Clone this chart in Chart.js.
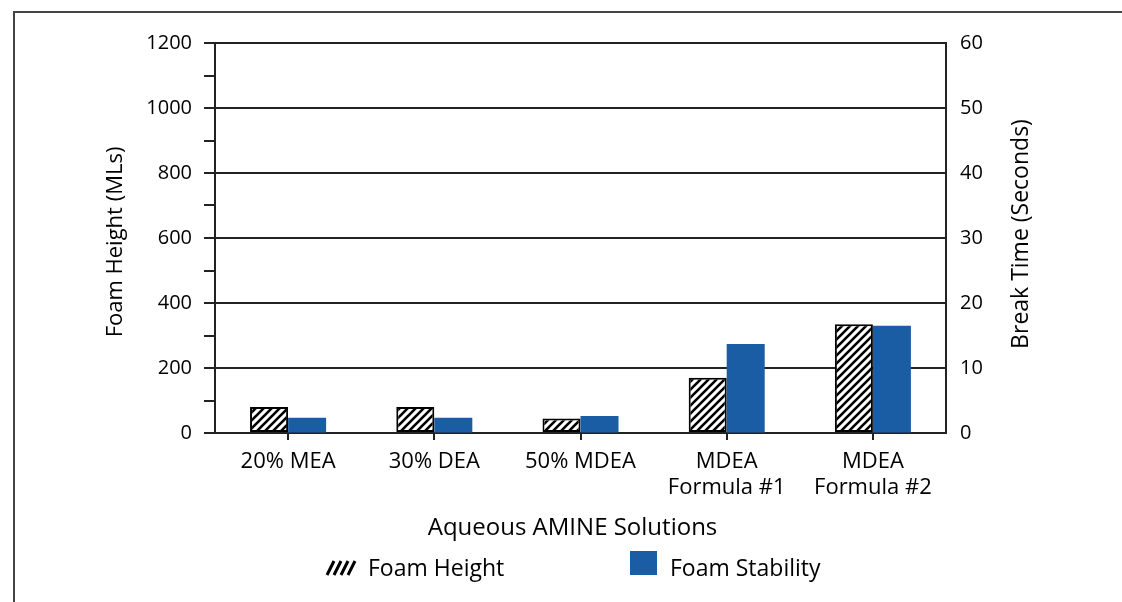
<!DOCTYPE html>
<html>
<head>
<meta charset="utf-8">
<script src="https://cdn.jsdelivr.net/npm/chart.js@4.4.0/dist/chart.umd.min.js"></script>
<style>
    html, body { margin: 0; padding: 0; background: #fff; }
    #wrap { position: relative; width: 1122px; height: 602px; overflow: hidden; }
    #frame { position: absolute; left: 13px; top: 11px; right: -4px; bottom: -4px;
             border-left: 2px solid #444; border-top: 2px solid #444; }
    canvas { position: absolute; left: 0; top: 0; }
</style>
</head>
<body>
<div id="wrap">
    <div id="frame"></div>
    <canvas id="chart" width="1122" height="602"></canvas>
</div>
<script>
// Chart data
const categories = [
    ['20% MEA'],
    ['30% DEA'],
    ['50% MDEA'],
    ['MDEA', 'Formula #1'],
    ['MDEA', 'Formula #2']
];
const foamHeight = [80, 80, 45, 170, 335];          // MLs, left axis
const foamStability = [2.35, 2.35, 2.6, 13.7, 16.5]; // seconds, right axis

const seriesNames = ['Foam Height', 'Foam Stability'];
const xTitle = 'Aqueous AMINE Solutions';
const yTitle = 'Foam Height (MLs)';
const y1Title = 'Break Time (Seconds)';

// Styling
const FONT = '"Open Sans", "DejaVu Sans", sans-serif';
const TEXT = '#000';
const LINE = '#222';
const BLUE = '#1b5da5';

const canvas = document.getElementById('chart');
const ctx = canvas.getContext('2d');

function makeHatch(target) {
    const tile = document.createElement('canvas');
    tile.width = 8;
    tile.height = 8;
    const g = tile.getContext('2d');
    g.fillStyle = '#fff';
    g.fillRect(0, 0, 8, 8);
    g.strokeStyle = '#000';
    g.lineWidth = 2.6;
    g.beginPath();
    g.moveTo(-2, 10); g.lineTo(10, -2);
    g.moveTo(-2, 2); g.lineTo(2, -2);
    g.moveTo(6, 10); g.lineTo(10, 6);
    g.stroke();
    return target.createPattern(tile, 'repeat');
}

// Titles and legend drawn on top of the chart
const extras = {
    id: 'extras',
    afterDraw(chart) {
        const c = chart.ctx;
        const a = chart.chartArea;
        const midY = (a.top + a.bottom) / 2;
        const midX = (a.left + a.right) / 2;
        c.save();
        c.fillStyle = TEXT;
        c.textBaseline = 'middle';
        c.textAlign = 'center';

        // axis titles
        c.font = '22px ' + FONT;
        c.save();
        c.translate(116, midY + 4);
        c.rotate(-Math.PI / 2);
        c.fillText(yTitle, 0, 0);
        c.restore();

        c.font = '23px ' + FONT;
        c.save();
        c.translate(1021, midY - 4);
        c.rotate(-Math.PI / 2);
        c.fillText(y1Title, 0, 0);
        c.restore();

        c.textBaseline = 'alphabetic';
        c.font = '24px ' + FONT;
        c.fillText(xTitle, midX - 8, 535);

        // legend
        c.font = '23px ' + FONT;
        c.textAlign = 'left';
        c.strokeStyle = '#000';
        c.lineWidth = 3;
        c.beginPath();
        for (let i = 0; i < 4; i++) {
            const x0 = 327 + i * 7;
            c.moveTo(x0, 575);
            c.lineTo(x0 + 7, 561);
        }
        c.stroke();
        c.fillText(seriesNames[0], 368, 576);

        c.fillStyle = BLUE;
        c.fillRect(630, 551, 27, 24);
        c.fillStyle = TEXT;
        c.fillText(seriesNames[1], 670, 576);
        c.restore();
    }
};

new Chart(ctx, {
    type: 'bar',
    data: {
        labels: categories,
        datasets: [
            {
                label: seriesNames[0],
                data: foamHeight,
                yAxisID: 'y',
                backgroundColor: makeHatch(ctx),
                borderColor: '#000',
                borderWidth: 2,
                borderSkipped: false
            },
            {
                label: seriesNames[1],
                data: foamStability,
                yAxisID: 'y1',
                backgroundColor: BLUE,
                borderWidth: 0
            }
        ]
    },
    options: {
        responsive: false,
        animation: false,
        categoryPercentage: 0.52,
        barPercentage: 1.0,
        layout: {
            padding: { top: 43, left: 0, right: 0, bottom: 0 }
        },
        plugins: {
            legend: { display: false },
            tooltip: { enabled: false }
        },
        scales: {
            x: {
                grid: {
                    drawOnChartArea: false,
                    offset: false,
                    tickLength: 7,
                    color: LINE,
                    lineWidth: 2
                },
                border: { color: LINE, width: 2 },
                ticks: {
                    color: TEXT,
                    font: { family: FONT, size: 22, lineHeight: 1.18 },
                    padding: 9,
                    maxRotation: 0,
                    autoSkip: false
                },
                afterFit: function(scale) {
                    scale.height = 602 - 433;
                }
            },
            y: {
                position: 'left',
                min: 0,
                max: 1200,
                ticks: {
                    stepSize: 100,
                    autoSkip: false,
                    padding: 12,
                    color: TEXT,
                    font: { family: FONT, size: 20 },
                    callback: function(value) {
                        return value % 200 === 0 ? value : '';
                    }
                },
                grid: {
                    color: function(context) {
                        return context.tick && context.tick.value % 200 === 0 ? LINE : 'rgba(0,0,0,0)';
                    },
                    tickColor: LINE,
                    tickLength: 11,
                    lineWidth: 2
                },
                border: { color: LINE, width: 2 },
                afterFit: function(scale) {
                    scale.width = 215;
                }
            },
            y1: {
                position: 'right',
                min: 0,
                max: 60,
                ticks: {
                    stepSize: 10,
                    padding: 14,
                    color: TEXT,
                    font: { family: FONT, size: 20 }
                },
                grid: {
                    drawOnChartArea: false,
                    drawTicks: false
                },
                border: { color: LINE, width: 2 },
                afterFit: function(scale) {
                    scale.width = 1122 - 946;
                }
            }
        }
    },
    plugins: [extras]
});
</script>
</body>
</html>
